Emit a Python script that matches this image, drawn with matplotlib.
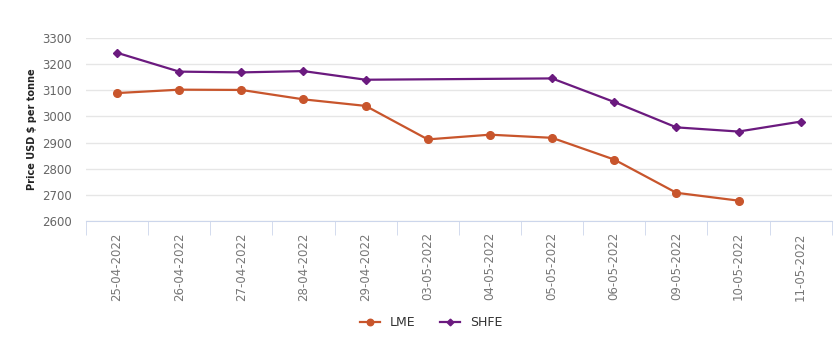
import numpy as np
import matplotlib.pyplot as plt

dates = ['25-04-2022', '26-04-2022', '27-04-2022', '28-04-2022', '29-04-2022', '03-05-2022',
         '04-05-2022', '05-05-2022', '06-05-2022', '09-05-2022', '10-05-2022', '11-05-2022']
lme = [3089, 3102, 3101, 3065, 3040, 2912, 2930, 2918, 2835, 2708, 2678, np.nan]
shfe = [3243, 3171, 3168, 3173, 3140, np.nan, np.nan, 3145, 3055, 2958, 2942, 2980]

fig = plt.figure(figsize=(8.37, 3.38), dpi=100)
ax = fig.add_axes([0.1027, 0.346, 0.891, 0.542])

x = np.arange(len(dates))
lme = np.array(lme, dtype=float)
shfe = np.array(shfe, dtype=float)
m1 = ~np.isnan(lme)
m2 = ~np.isnan(shfe)

ax.plot(x[m1], lme[m1], color='#c8552c', lw=1.6, marker='o', ms=5.5, label='LME', zorder=3)
ax.plot(x[m2], shfe[m2], color='#6b1a7f', lw=1.6, marker='D', ms=4, label='SHFE', zorder=3)

ax.set_xlim(-0.5, len(dates) - 0.5)
ax.set_ylim(2600, 3300)
ax.set_yticks(range(2600, 3301, 100))
ax.grid(axis='y', color='#e6e6e6', lw=1)
ax.set_axisbelow(True)
for s in ['top', 'right', 'left']:
    ax.spines[s].set_visible(False)
ax.spines['bottom'].set_color('#ccd6eb')

ax.set_xticks(x)
ax.set_xticklabels(dates, rotation=90, fontsize=8.5, color='#777777')
ax.set_xticks(np.arange(-0.5, len(dates)), minor=True)
ax.tick_params(axis='x', which='major', length=0, pad=8)
ax.tick_params(axis='x', which='minor', length=10, color='#ccd6eb')
ax.tick_params(axis='y', length=0, labelsize=8.5, labelcolor='#666666', pad=10)

ax.set_ylabel('Price USD $ per tonne', fontsize=7, fontweight='bold', color='#222222', labelpad=4)

fig.legend(loc='center', bbox_to_anchor=(0.515, 0.045), ncol=2, frameon=False,
           fontsize=9, handlelength=1.6, columnspacing=2.0, labelcolor='#333333',
           markerscale=0.85)

fig.savefig('out.png', dpi=100)
